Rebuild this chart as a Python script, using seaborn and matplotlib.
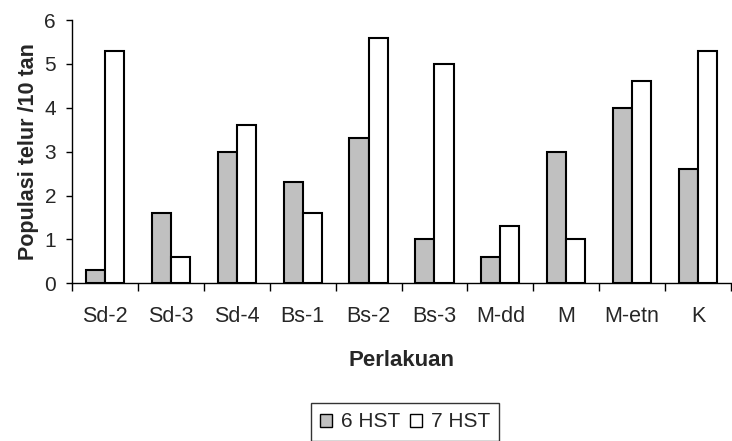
import matplotlib
matplotlib.use("Agg")
import matplotlib.pyplot as plt
from matplotlib.ticker import FixedLocator
import seaborn as sns
import pandas as pd

categories = ["Sd-2", "Sd-3", "Sd-4", "Bs-1", "Bs-2", "Bs-3", "M-dd", "M", "M-etn", "K"]
hst6 = [0.3, 1.6, 3.0, 2.3, 3.3, 1.0, 0.6, 3.0, 4.0, 2.6]
hst7 = [5.3, 0.6, 3.6, 1.6, 5.6, 5.0, 1.3, 1.0, 4.6, 5.3]
series_names = ["6 HST", "7 HST"]
yticks = [0, 1, 2, 3, 4, 5, 6]

df = pd.DataFrame({
    "Perlakuan": categories * 2,
    "value": hst6 + hst7,
    "series": [series_names[0]] * len(categories) + [series_names[1]] * len(categories),
})

sns.set_style("white")
plt.rcParams["font.family"] = ["Liberation Sans", "DejaVu Sans"]

fig = plt.figure(figsize=(7.32, 4.41), dpi=100)
ax = fig.add_axes([72 / 732, 1 - 283.3 / 441, 659 / 732, (283.3 - 20) / 441])

sns.barplot(data=df, x="Perlakuan", y="value", hue="series",
            palette=["#C0C0C0", "#FFFFFF"], edgecolor="black", linewidth=1.5,
            width=0.58, ax=ax, errorbar=None, saturation=1)

ax.set_xlim(-0.5, len(categories) - 0.5)
ax.set_ylim(0, 6)
ax.set_yticks(yticks)
ax.tick_params(axis="y", direction="out", length=4.5, width=1, labelsize=15, color="black", pad=7, left=True)
ax.tick_params(axis="x", which="major", length=0, labelsize=15.5, pad=16)
ax.xaxis.set_minor_locator(FixedLocator([i - 0.5 for i in range(len(categories) + 1)]))
ax.tick_params(axis="x", which="minor", direction="out", length=6, width=1, color="black", bottom=True)

for s in ["top", "right"]:
    ax.spines[s].set_visible(False)
for s in ["left", "bottom"]:
    ax.spines[s].set_color("black")
    ax.spines[s].set_linewidth(1)

ax.set_xlabel("Perlakuan", fontsize=16, fontweight="bold", labelpad=17)
ax.set_ylabel("Populasi telur /10 tan", fontsize=15.5, fontweight="bold", labelpad=4)

handles, labels = ax.get_legend_handles_labels()
ax.get_legend().remove()
leg = fig.legend(handles, labels, ncol=2, loc="upper center",
                 bbox_to_anchor=(405 / 732, 1 - 403 / 441), frameon=True, fancybox=False,
                 edgecolor="black", fontsize=15, handlelength=0.58, handleheight=0.58,
                 columnspacing=0.45, handletextpad=0.43, borderpad=0.45, borderaxespad=0)
leg.get_frame().set_linewidth(1)
for h in leg.legend_handles:
    h.set_linewidth(1)

fig.savefig("out.png", dpi=100)
